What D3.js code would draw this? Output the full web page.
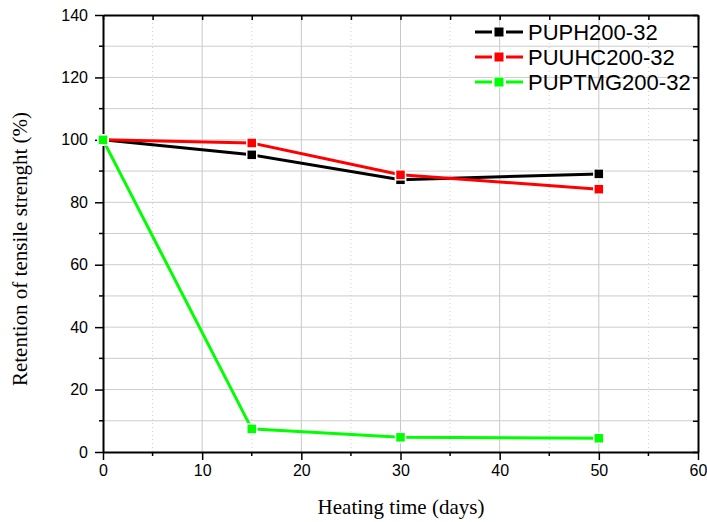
<!DOCTYPE html>
<html>
<head>
<meta charset="utf-8">
<script src="https://cdn.jsdelivr.net/npm/d3@7"></script>
<style>
  body { margin: 0; background: #fff; }
  .tick text { font-family: "Liberation Sans", Arial, sans-serif; font-size: 16px; fill: #000; }
  .axis-title { font-family: "Liberation Serif", "Times New Roman", serif; font-size: 21px; fill: #000; }
  .legend text { font-family: "Liberation Sans", Arial, sans-serif; font-size: 22px; fill: #000; }
</style>
</head>
<body>
<div id="chart"></div>
<script>
// heating time (days)
const DAYS = [0, 15, 30, 50];
const SERIES_NAMES = ["PUPH200-32", "PUUHC200-32", "PUPTMG200-32"];
const PUPH = [100, 95.2, 87.2, 89.1];
const PUUHC = [100, 99.0, 88.8, 84.2];
const PUPTMG = [100, 7.4, 4.7, 4.4];
const SERIES_COLORS = ["#000000", "#ff0000", "#00ff00"];
const X_TICKS = [0, 10, 20, 30, 40, 50, 60];
const Y_TICKS = [0, 20, 40, 60, 80, 100, 120, 140];

const W = 707, H = 522;
const margin = { top: 15, right: 10, bottom: 70, left: 103 };
const width = 698 - margin.left;
const height = 452 - margin.top;

const svg = d3.select('#chart')
    .append('svg')
    .attr('width', W)
    .attr('height', H);

const g = svg.append('g')
    .attr('transform', `translate(${margin.left},${margin.top})`);

const x = d3.scaleLinear().domain([0, 60]).range([0, width]);
const y = d3.scaleLinear().domain([0, 140]).range([height, 0]);

// grid: minor x dotted, major x solid, all y solid
const xMinor = d3.range(5, 60, 10);
g.append('g').selectAll('line')
    .data(xMinor).enter().append('line')
    .attr('x1', d => x(d)).attr('x2', d => x(d))
    .attr('y1', 0).attr('y2', height)
    .style('stroke', '#d0d0d0').style('stroke-width', 1)
    .style('stroke-dasharray', '1,3');

g.append('g').selectAll('line')
    .data(X_TICKS.slice(1, -1)).enter().append('line')
    .attr('x1', d => x(d)).attr('x2', d => x(d))
    .attr('y1', 0).attr('y2', height)
    .style('stroke', '#c8c8c8').style('stroke-width', 1);

g.append('g').selectAll('line')
    .data(d3.range(10, 140, 10)).enter().append('line')
    .attr('x1', 0).attr('x2', width)
    .attr('y1', d => y(d)).attr('y2', d => y(d))
    .style('stroke', '#cccccc').style('stroke-width', 1);

// axes
function styleAxis(sel) {
    sel.select('.domain').style('stroke', '#000').style('stroke-width', 2);
    sel.selectAll('.tick line').style('stroke', '#000').style('stroke-width', 1.5);
}

const xAxis = g.append('g')
    .attr('transform', `translate(0,${height})`)
    .call(d3.axisBottom(x).tickValues(X_TICKS).tickSize(8).tickSizeOuter(0).tickPadding(5));
styleAxis(xAxis);
xAxis.append('g').selectAll('line').data(xMinor).enter().append('line')
    .attr('x1', d => x(d)).attr('x2', d => x(d)).attr('y1', 0).attr('y2', 4)
    .style('stroke', '#000').style('stroke-width', 1.5);

const yAxis = g.append('g')
    .call(d3.axisLeft(y).tickValues(Y_TICKS).tickSize(8).tickSizeOuter(0).tickPadding(7));
styleAxis(yAxis);
yAxis.append('g').selectAll('line').data(d3.range(10, 140, 20)).enter().append('line')
    .attr('x1', -4).attr('x2', 0).attr('y1', d => y(d)).attr('y2', d => y(d))
    .style('stroke', '#000').style('stroke-width', 1.5);

const topAxis = g.append('g')
    .call(d3.axisBottom(x).tickValues(d3.range(0, 61, 5)).tickSize(5).tickSizeOuter(0).tickFormat(''));
styleAxis(topAxis);

const rightAxis = g.append('g')
    .attr('transform', `translate(${width},0)`)
    .call(d3.axisLeft(y).tickValues(d3.range(0, 141, 10)).tickSize(5).tickSizeOuter(0).tickFormat(''));
styleAxis(rightAxis);

// series
const seriesData = [PUPH, PUUHC, PUPTMG];
const line = d3.line()
    .x((d, i) => x(DAYS[i]))
    .y(d => y(d));

const mk = 10;
seriesData.forEach((vals, s) => {
    g.append('path')
        .datum(vals)
        .attr('d', line)
        .style('fill', 'none')
        .style('stroke', SERIES_COLORS[s])
        .style('stroke-width', 3);
    g.append('g').selectAll('rect')
        .data(vals).enter().append('rect')
        .attr('x', (d, i) => x(DAYS[i]) - mk / 2)
        .attr('y', d => y(d) - mk / 2)
        .attr('width', mk).attr('height', mk)
        .style('fill', SERIES_COLORS[s])
        .style('stroke', '#fff').style('stroke-width', 1.5);
});

// legend
const legend = g.append('g')
    .attr('class', 'legend')
    .attr('transform', `translate(${475 - margin.left}, ${32 - margin.top})`);
const items = legend.selectAll('g')
    .data(SERIES_NAMES).enter().append('g')
    .attr('transform', (d, i) => `translate(0, ${i * 25})`);
items.append('line')
    .attr('x1', 0).attr('x2', 48).attr('y1', 0).attr('y2', 0)
    .style('stroke', (d, i) => SERIES_COLORS[i])
    .style('stroke-width', 3)
    .style('stroke-dasharray', '17,14');
items.append('rect')
    .attr('x', 24 - 5).attr('y', -5).attr('width', 10).attr('height', 10)
    .style('fill', (d, i) => SERIES_COLORS[i])
    .style('stroke', '#fff').style('stroke-width', 1);
items.append('text')
    .attr('x', 53).attr('y', 0).attr('dy', '0.36em')
    .text(d => d);

// axis titles
svg.append('text')
    .attr('class', 'axis-title')
    .attr('text-anchor', 'middle')
    .attr('x', 401).attr('y', 514)
    .text('Heating time (days)');

svg.append('text')
    .attr('class', 'axis-title')
    .attr('text-anchor', 'middle')
    .attr('transform', 'rotate(-90)')
    .attr('x', -249).attr('y', 27)
    .text('Retention of tensile strenght (%)');
</script>
</body>
</html>
